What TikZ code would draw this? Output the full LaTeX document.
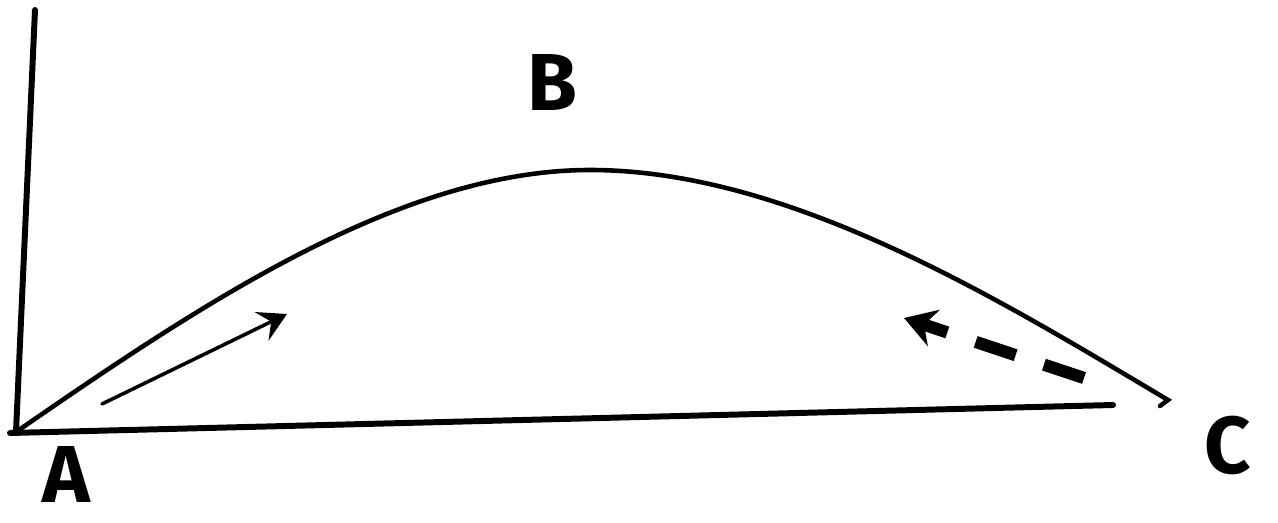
\documentclass[tikz,border=0pt]{standalone}
\usepackage{fontspec}
\setmainfont{Fira Sans}
\usetikzlibrary{arrows.meta}

\tikzset{
  axisline/.style={line width=3.4pt,line cap=round},
  pathline/.style={line width=2.6pt,line cap=round},
  moveline/.style={line width=2pt,line cap=round,-{Stealth[length=16pt,width=18pt,inset=6pt]}},
  backline/.style={line width=7pt,dash pattern=on 24pt off 17pt,-{Stealth[length=18pt,width=22pt,inset=6pt,line width=0pt]}},
  letter/.style={font=\fontsize{46}{48}\selectfont\bfseries,inner sep=0pt}
}

\begin{document}
\begin{tikzpicture}[x=0.02cm,y=-0.02cm]
  \useasboundingbox (0,0) rectangle (1278,523);
  % corner points
  \coordinate (origin) at (16,432);
  \coordinate (top) at (35,10);
  \coordinate (axisend) at (1113,405);
  \coordinate (peak) at (590,170);
  \coordinate (finish) at (1168,400);
  % axes
  \draw[axisline] (origin) -- (top);
  \draw[axisline] (10,433) -- (axisend);
  % the curve
  \draw[pathline] (origin) .. controls (200,305) and (400,170) .. (peak)
    .. controls (790,170) and (1000,300) .. (finish) -- (1160,406);
  % arrows
  \coordinate (upstart) at (102,404);
  \coordinate (uptip) at (287,314);
  \draw[moveline] (upstart) -- (uptip);
  \coordinate (backstart) at (1084,378);
  \coordinate (backtip) at (904,318);
  \draw[backline] (backstart) -- (backtip);
  % labels
  \node[letter] (A) at (66,474) {A};
  \node[letter] (B) at (552,82) {B};
  \node[letter] (C) at (1228,445) {C};
\end{tikzpicture}
\end{document}
